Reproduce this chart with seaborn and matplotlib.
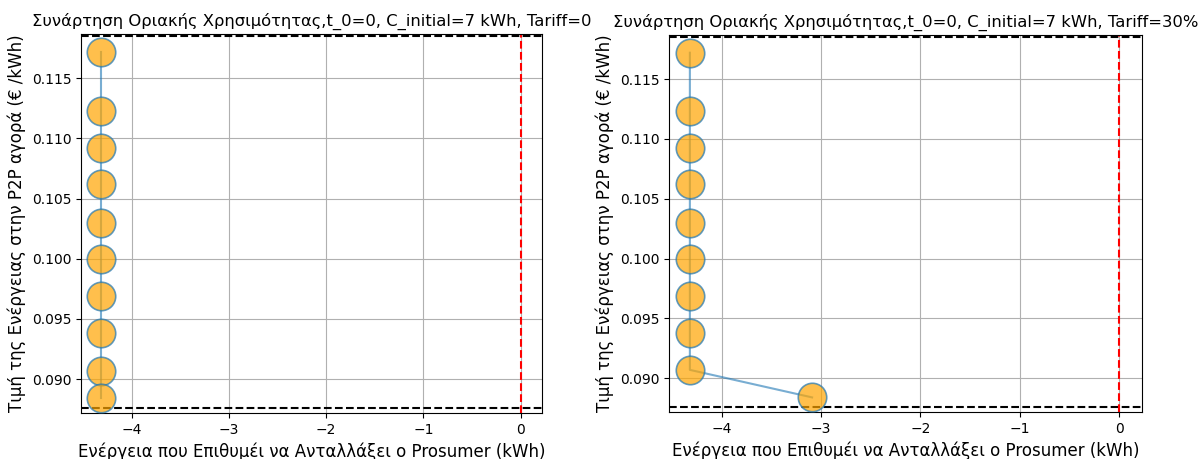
import matplotlib
matplotlib.use("Agg")
import matplotlib.pyplot as plt
import seaborn as sns
import pandas as pd

# Data
energy_left = [-4.32, -4.32, -4.32, -4.32, -4.32, -4.32, -4.32, -4.32, -4.32, -4.32]
price_left = [0.1172, 0.1123, 0.1092, 0.1062, 0.1030, 0.1000, 0.0969, 0.0938, 0.0907, 0.0884]
energy_right = [-4.32, -4.32, -4.32, -4.32, -4.32, -4.32, -4.32, -4.32, -4.32, -3.09]
price_right = [0.1172, 0.1123, 0.1092, 0.1062, 0.1030, 0.1000, 0.0969, 0.0938, 0.0907, 0.0884]
price_upper = 0.1185
price_lower = 0.0876
energy_zero = 0.0
titles = ["Συνάρτηση Οριακής Χρησιμότητας,t_0=0, C_initial=7 kWh, Tariff=0",
          "Συνάρτηση Οριακής Χρησιμότητας,t_0=0, C_initial=7 kWh, Tariff=30%"]
xlabel = "Ενέργεια που Επιθυμέι να Ανταλλάξει ο Prosumer (kWh)"
ylabel = "Τιμή της Ενέργειας στην P2P αγορά (€ /kWh)"

plt.rcParams['font.family'] = ['DejaVu Sans']

fig = plt.figure(figsize=(11.98, 4.59), dpi=100)
ax1 = fig.add_axes([81 / 1198, 1 - 413 / 459, 461 / 1198, 379 / 459])
ax2 = fig.add_axes([669 / 1198, 1 - 412 / 459, 473 / 1198, 377 / 459])

panels = [(ax1, energy_left, price_left, (-4.521, 0.219)),
          (ax2, energy_right, price_right, (-4.53, 0.23))]

for i, (ax, ex, py, xl) in enumerate(panels):
    df = pd.DataFrame({"x": ex, "y": py})
    sns.lineplot(data=df, x="x", y="y", sort=False, ax=ax, color="C0", alpha=0.6,
                 linewidth=1.5, estimator=None)
    sns.scatterplot(data=df, x="x", y="y", ax=ax, s=420, color="orange", alpha=0.7,
                    edgecolor="C0", linewidth=1.2, zorder=3)
    ax.axhline(price_upper, color="black", linestyle="--", linewidth=1.5)
    ax.axhline(price_lower, color="black", linestyle="--", linewidth=1.5)
    ax.axvline(energy_zero, color="red", linestyle="--", linewidth=1.5)
    ax.set_xlim(*xl)
    ax.set_ylim(0.08718, 0.11868)
    ax.set_xticks([-4, -3, -2, -1, 0])
    ax.set_yticks([0.090, 0.095, 0.100, 0.105, 0.110, 0.115])
    ax.set_yticklabels(["0.090", "0.095", "0.100", "0.105", "0.110", "0.115"])
    ax.grid(True, color="#b0b0b0", linewidth=0.8)
    ax.set_axisbelow(True)
    ax.set_title(titles[i], fontsize=11.8)
    ax.set_xlabel(xlabel, fontsize=12)
    ax.set_ylabel(ylabel, fontsize=12)
    ax.tick_params(labelsize=10)

fig.savefig("out.png", dpi=100)
